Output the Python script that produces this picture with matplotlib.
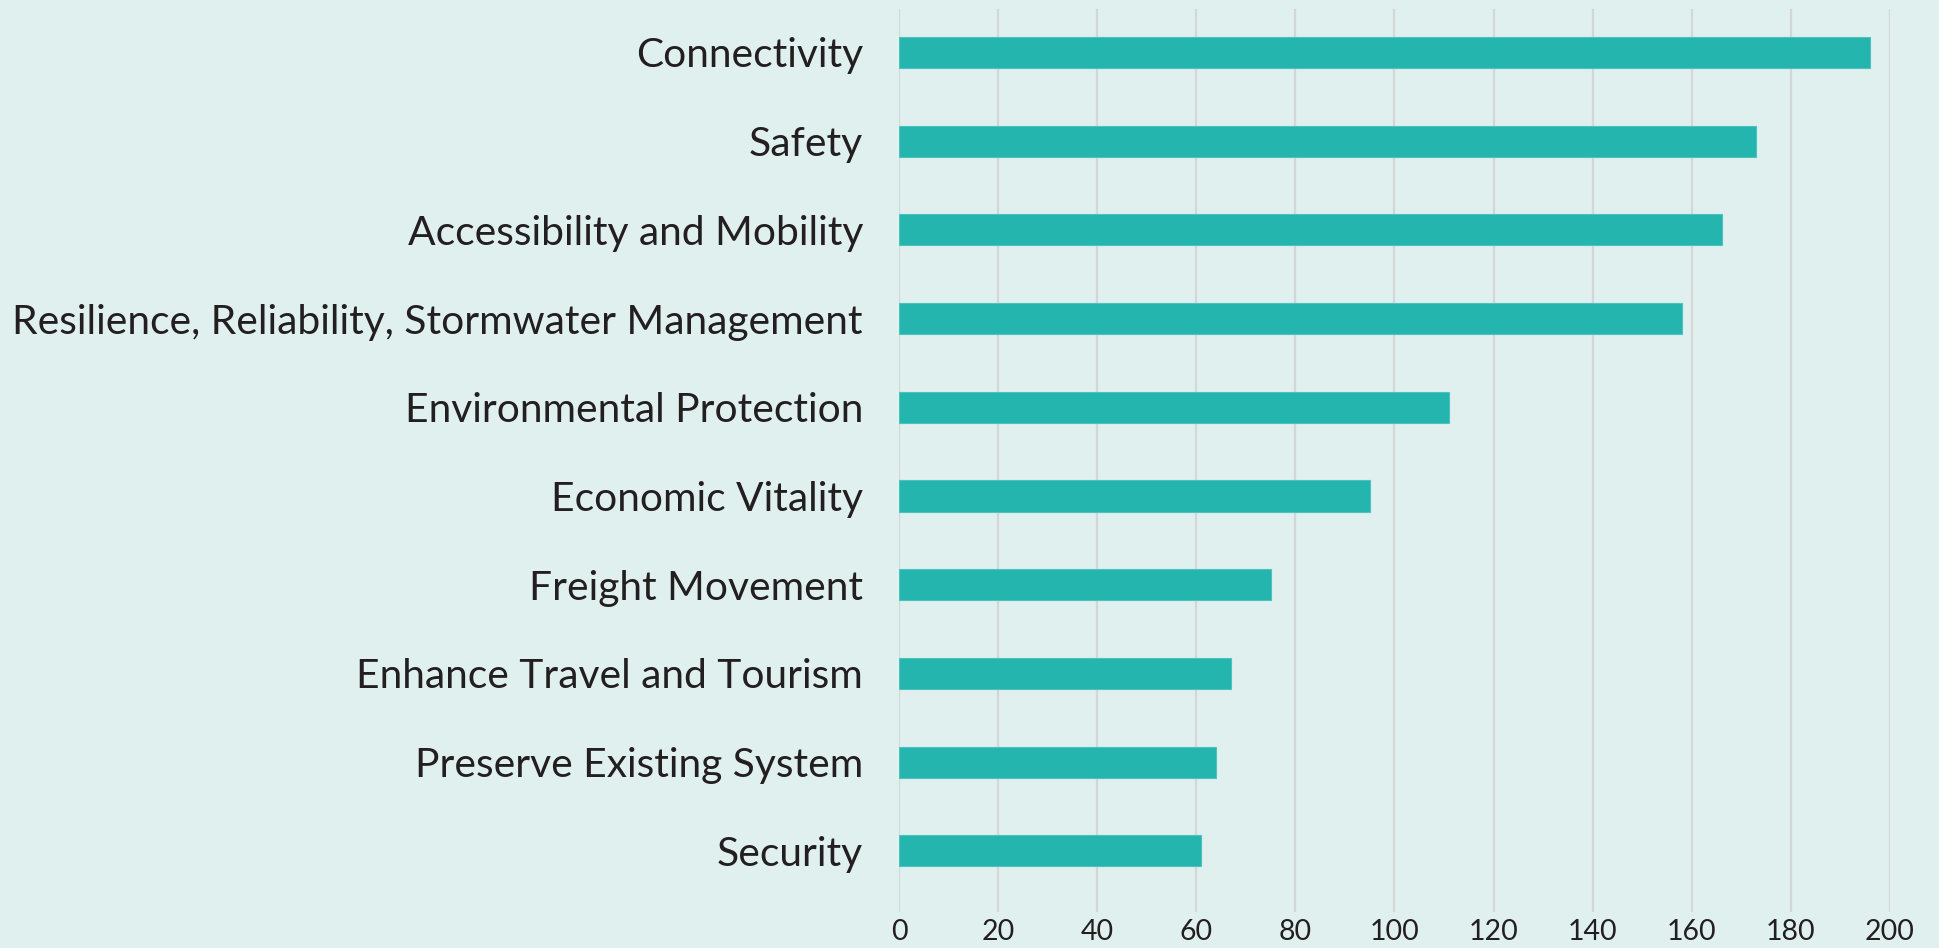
import matplotlib
matplotlib.use("Agg")
import matplotlib.pyplot as plt

categories = [
    "Connectivity",
    "Safety",
    "Accessibility and Mobility",
    "Resilience, Reliability, Stormwater Management",
    "Environmental Protection",
    "Economic Vitality",
    "Freight Movement",
    "Enhance Travel and Tourism",
    "Preserve Existing System",
    "Security",
]
values = [196, 173, 166, 158, 111, 95, 75, 67, 64, 61]
xticks = [0, 20, 40, 60, 80, 100, 120, 140, 160, 180, 200]

bg = "#e0f0ef"
bar_color = "#24b5ae"
text_color = "#231f20"

plt.rcParams['font.family'] = ['Lato', 'DejaVu Sans']

fig = plt.figure(figsize=(19.4, 9.48), dpi=100, facecolor=bg)
ax = fig.add_axes([899/1940, 36/948, (1890-899)/1940, (912-9)/948])
ax.set_facecolor(bg)

ypos = list(range(len(categories)))
ax.barh(ypos, values, height=0.35, color=bar_color, edgecolor="#4cc4be", linewidth=0.8, zorder=3)

ax.set_xlim(0, 200)
ax.set_ylim(len(categories) - 1 + 0.69, -0.49)
ax.set_xticks(xticks)
ax.set_xticklabels([str(t) for t in xticks], fontsize=20.5, color=text_color)
ax.set_yticks(ypos)
ax.set_yticklabels(categories, fontsize=29.3, color=text_color)
ax.tick_params(axis='x', length=0, pad=5)
ax.tick_params(axis='y', length=0, pad=26)
ax.grid(axis='x', color="#d6d6d6", linewidth=1.6, zorder=0)
ax.grid(axis='y', visible=False)
for s in ax.spines.values():
    s.set_visible(False)

fig.savefig("out.png", dpi=100, facecolor=bg)
